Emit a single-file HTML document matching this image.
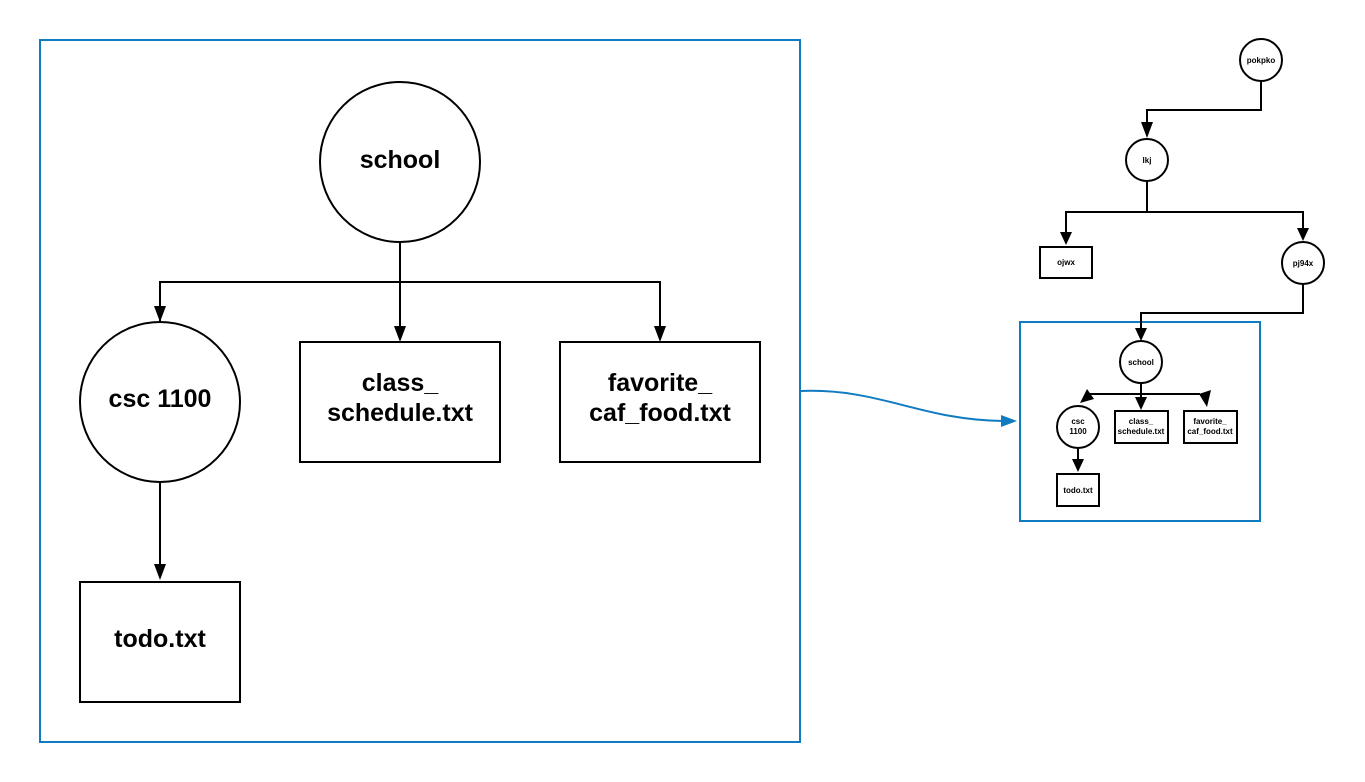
<!DOCTYPE html>
<html><head><style>html,body{margin:0;padding:0;background:#fff}svg{display:block}</style></head>
<body>
<svg width="1365" height="782" xmlns="http://www.w3.org/2000/svg" font-family="Liberation Sans, Arial, sans-serif" font-weight="bold">
<rect x="0" y="0" width="1365" height="782" fill="#fff"/>
<rect x="40" y="40" width="760" height="702" fill="none" stroke="#0f7cc1" stroke-width="2"/>
<g stroke="#000" stroke-width="2" fill="#fff">
<circle cx="400" cy="162" r="80"/>
<circle cx="160" cy="402" r="80"/>
<rect x="300" y="342" width="200" height="120"/>
<rect x="560" y="342" width="200" height="120"/>
<rect x="80" y="582" width="160" height="120"/>
</g>
<g stroke="#000" stroke-width="2" fill="none">
<path d="M400 242V328M160 322V282H660V328M160 482V568"/>
</g>
<g fill="#000">
<polygon points="154,306 166,306 160,322"/>
<polygon points="394,326 406,326 400,342"/>
<polygon points="654,326 666,326 660,342"/>
<polygon points="154,564 166,564 160,580"/>
</g>
<g font-size="25" text-anchor="middle" fill="#000">
<text x="400" y="168">school</text>
<text x="160" y="407">csc 1100</text>
<text x="400" y="391">class_</text>
<text x="400" y="421">schedule.txt</text>
<text x="660" y="391">favorite_</text>
<text x="660" y="421">caf_food.txt</text>
<text x="160" y="647">todo.txt</text>
</g>
<path d="M801 391 C 880 388, 920 420, 1003 421" fill="none" stroke="#0f7cc1" stroke-width="2"/>
<polygon points="1001,415 1017,421 1001,427" fill="#0f7cc1"/>
<rect x="1020" y="322" width="240" height="199" fill="none" stroke="#0f7cc1" stroke-width="2"/>
<g stroke="#000" stroke-width="2" fill="none">
<path d="M1261 81V110H1147V128"/>
<path d="M1147 181V212H1066V234M1147 212H1303V232"/>
<path d="M1303 284V313H1141V330"/>
<path d="M1141 383V402M1090 394H1200"/>
<path d="M1078 448V462"/>
</g>
<g fill="#000">
<polygon points="1141,138 1153,138 1147,122" transform="rotate(180 1147 130)"/>
<polygon points="1060,232 1072,232 1066,245"/>
<polygon points="1297,228 1309,228 1303,241"/>
<polygon points="1135,328 1147,328 1141,341"/>
<polygon points="1135,397 1147,397 1141,410"/>
<polygon points="1087,389 1094,399 1080,403"/>
<polygon points="1199,394 1211,390 1207,407"/>
<polygon points="1072,459 1084,459 1078,472"/>
</g>
<g stroke="#000" stroke-width="2" fill="#fff">
<circle cx="1261" cy="60" r="21"/>
<circle cx="1147" cy="160" r="21"/>
<circle cx="1303" cy="263" r="21"/>
<rect x="1040" y="247" width="52" height="31"/>
<circle cx="1141" cy="362" r="21"/>
<circle cx="1078" cy="427" r="21"/>
<rect x="1115" y="411" width="53" height="32"/>
<rect x="1184" y="411" width="53" height="32"/>
<rect x="1057" y="474" width="42" height="32"/>
</g>
<g font-size="8" text-anchor="middle" fill="#000">
<text x="1261" y="63">pokpko</text>
<text x="1147" y="163">lkj</text>
<text x="1066" y="265">ojwx</text>
<text x="1303" y="266">pj94x</text>
<text x="1141" y="365">school</text>
<text x="1078" y="424">csc</text>
<text x="1078" y="434">1100</text>
<text x="1141" y="424">class_</text>
<text x="1141" y="434">schedule.txt</text>
<text x="1210" y="424">favorite_</text>
<text x="1210" y="434">caf_food.txt</text>
<text x="1078" y="493">todo.txt</text>
</g>
</svg>
</body></html>
